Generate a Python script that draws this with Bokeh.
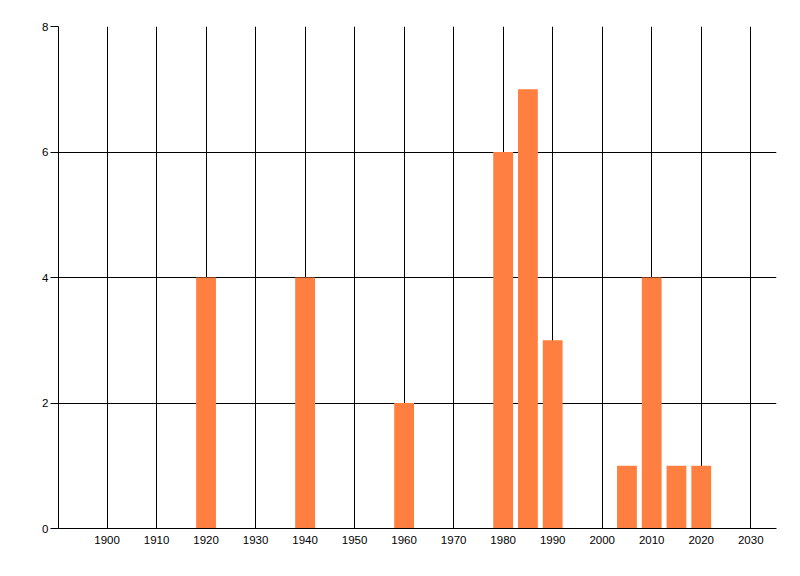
from bokeh.plotting import figure
from bokeh.models import FixedTicker, Range1d, ColumnDataSource
from bokeh.embed import file_html
from bokeh.resources import INLINE

years = [1920, 1940, 1960, 1980, 1985, 1990, 2005, 2010, 2015, 2020]
counts = [4, 4, 2, 6, 7, 3, 1, 4, 1, 1]
x_ticks = [1900, 1910, 1920, 1930, 1940, 1950, 1960, 1970, 1980, 1990, 2000, 2010, 2020, 2030]
y_ticks = [0, 2, 4, 6, 8]

src = ColumnDataSource(dict(x=years, top=counts))

p = figure(width=790, height=562, output_backend="svg", toolbar_location=None,
           x_range=Range1d(1890.2, 2035.2), y_range=Range1d(0, 8),
           min_border_left=58, min_border_right=14, min_border_top=26, min_border_bottom=34)
p.outline_line_color = None
p.background_fill_color = "white"
p.border_fill_color = "white"

p.vbar(x="x", top="top", bottom=0, width=4, source=src, fill_color="#FF7F40", line_color=None)

FONT = "Liberation Sans"
p.xaxis.ticker = FixedTicker(ticks=x_ticks)
p.yaxis.ticker = FixedTicker(ticks=y_ticks)
for ax in (p.xaxis[0], p.yaxis[0]):
    ax.axis_line_color = "black"
    ax.axis_line_width = 1
    ax.major_tick_line_color = "black"
    ax.minor_tick_line_color = None
    ax.major_tick_in = 0
    ax.major_label_text_font = FONT
    ax.major_label_text_font_size = "11.5px"
    ax.major_label_text_color = "black"
p.xaxis.major_tick_out = 0
p.xaxis.major_label_standoff = 7
p.yaxis.major_tick_out = 8
p.yaxis.major_label_standoff = 2

p.xgrid.ticker = FixedTicker(ticks=x_ticks)
p.ygrid.ticker = FixedTicker(ticks=y_ticks)
for g in (p.xgrid[0], p.ygrid[0]):
    g.grid_line_color = "black"
    g.grid_line_alpha = 1.0
    g.grid_line_width = 1

open("out.html", "w").write(file_html(p, INLINE))
